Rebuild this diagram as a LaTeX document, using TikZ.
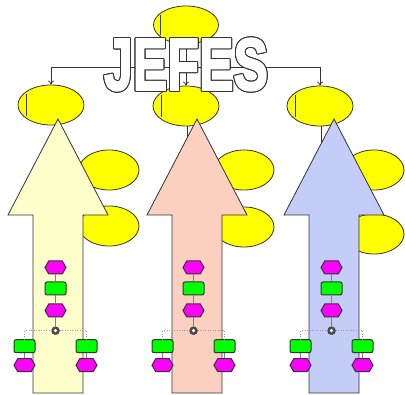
\documentclass[tikz,border=0pt]{standalone}
\usepackage{fontspec}
\newfontfamily\jefesfont{Liberation Sans}[BoldFeatures={FakeBold=2.5}]
\usetikzlibrary{arrows.meta,positioning,calc,shapes.geometric,shapes.symbols}
\definecolor{elyellow}{HTML}{FFFF00}
\definecolor{arcream}{HTML}{FFFFCC}
\definecolor{arsalmon}{HTML}{FCD0C0}
\definecolor{arlilac}{HTML}{C4CCF8}
\definecolor{boxmag}{HTML}{FF00FF}
\definecolor{boxgreen}{HTML}{00FF00}
\definecolor{edge}{HTML}{333333}
\tikzset{
  ellbox/.style={ellipse, draw=edge, line width=0.8pt, fill=elyellow,
                 minimum width=66pt, minimum height=40pt, inner sep=0pt},
  sidebox/.style={ellbox, minimum width=60pt},
  magbox/.style={signal, signal to=east and west, signal pointer angle=120,
                 draw=edge, line width=1pt, fill=boxmag,
                 minimum width=21pt, minimum height=13pt, inner sep=0pt},
  grnbox/.style={rectangle, rounded corners=2pt, draw=edge, line width=1pt,
                 fill=boxgreen, minimum width=21pt, minimum height=13pt, inner sep=0pt},
  dotnode/.style={circle, draw=edge, fill=gray!60!black, minimum size=8pt, inner sep=0pt,
                  path picture={\fill[white] (path picture bounding box.center) circle (1.7pt);}},
  bigarr/.style={draw=edge, line width=0.8pt},
  link/.style={draw=gray, line width=0.4pt},
  dotline/.style={draw=gray!80, line width=0.5pt, dotted},
  arr/.style={-{To[length=4pt,width=6pt]}, line width=0.7pt, draw=edge},
  jefes/.style={font=\jefesfont\bfseries\fontsize{74}{80}\selectfont, inner sep=0pt, anchor=base}}

\begin{document}
\begin{tikzpicture}[x=1pt, y=-1pt]
  \useasboundingbox (0,0) rectangle (405,395);
  % top and second row
  \node[ellbox, minimum width=65pt, minimum height=38pt] (top) at (186,25) {};
  \draw[edge, line width=0.8pt] ($(top.center)+(-26,-10)$) -- ($(top.center)+(-26,10)$);
  \node[ellbox] (e1) at (51,105) {};
  \node[ellbox] (e2) at (186,106) {};
  \node[ellbox] (e3) at (320,106) {};
  \foreach \n in {1,2,3}
    \draw[edge, line width=0.8pt] ($(e\n.center)+(-25,-11)$) -- ($(e\n.center)+(-25,11)$);
  \coordinate (br) at (186,67);
  \draw[arr] (top.south) -- (br) -| (e1.north);
  \draw[arr] (br) -| (e3.north);
  \draw[arr] (br) -- (e2.north);
  \draw[edge, line width=0.8pt] (e2.south) ++(1,0) -- ++(0,25);
  \draw[edge, line width=0.8pt] (e3.south) ++(1,0) -- ++(0,25);
  % three columns
  \foreach \cx/\sx/\ex/\ey/\col/\n in {58/55.5/109/226/arcream/1,
      197/193.5/244/227/arsalmon/2, 334/331.5/374/234/arlilac/3}{
    \node[sidebox] (sa\n) at (\ex,170) {};
    \node[sidebox] (sb\n) at (\ex,\ey) {};
    \draw[bigarr, fill=\col] (\cx,119) -- (\cx+50,215) -- (\cx+25,215) -- (\cx+25,393)
      -- (\cx-25,393) -- (\cx-25,215) -- (\cx-50,215) -- cycle;
    \node[magbox] (ma\n) at (\sx,267.5) {};
    \node[grnbox, below=7pt of ma\n] (gb\n) {};
    \node[magbox, below=8pt of gb\n] (mb\n) {};
    \node[dotnode, below=9pt of mb\n] (c\n) {};
    \node[grnbox] (gl\n) at ($(c\n)+(-31,15.5)$) {};
    \node[grnbox] (gr\n) at ($(c\n)+(31,15.5)$) {};
    \node[magbox, below=5pt of gl\n] (ml\n) {};
    \node[magbox, below=5pt of gr\n] (mr\n) {};
    \draw[link] (ma\n) -- (gb\n) (gb\n) -- (mb\n) (mb\n) -- (c\n)
      (gl\n) -- (ml\n) (gr\n) -- (mr\n);
    \draw[dotline] (gl\n.north) |- (c\n.west);
    \draw[dotline] (gr\n.north) |- (c\n.east);
  }
  % title on top
  \foreach \a in {0,22.5,...,337.5}
    \node[jefes, text=edge] at ($(186,90)+(\a:1)$) {\scalebox{0.7}[1]{JEFES}};
  \node[jefes, text=white] (title) at (186,90) {\scalebox{0.7}[1]{JEFES}};
\end{tikzpicture}
\end{document}
